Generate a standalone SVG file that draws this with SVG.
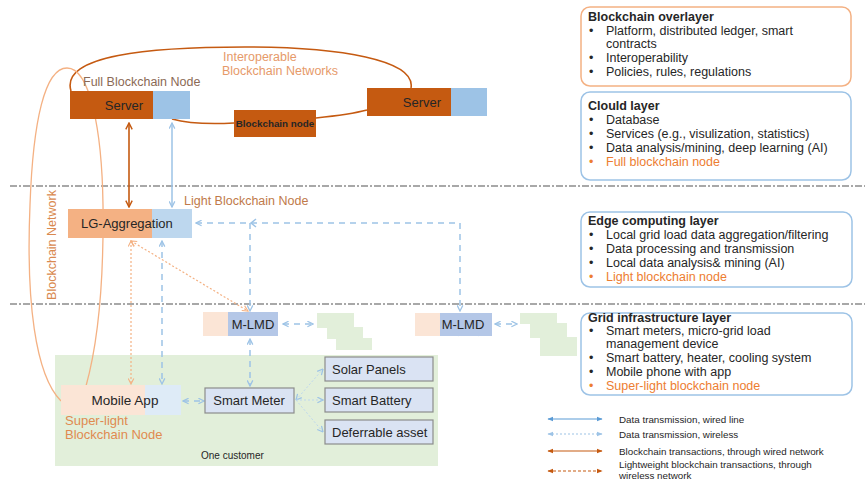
<svg xmlns="http://www.w3.org/2000/svg" width="865" height="489" viewBox="0 0 865 489">
  <defs>
    <style>
      text { font-family: "Liberation Sans", Arial, sans-serif; fill: #262626; }
      .lbl { font-size: 12.5px; }
      .dl { font-size: 13px; }
      .small { font-size: 9.8px; }
      .title { font-size: 12.5px; font-weight: bold; }
      .hl { fill: #ED7D31; }
      .sep { stroke: #8C8C8C; stroke-width: 1.3; stroke-dasharray: 7 2 2 2; fill: none; }
      .panel { fill: #FFFFFF; stroke-width: 1.5; }
      .wired-b { stroke: #9DC3E6; stroke-width: 1.5; fill: none; }
      .wired-o { stroke: #C55A11; stroke-width: 1.6; fill: none; }
      .wless-b { stroke: #9DC3E6; stroke-width: 1.5; stroke-dasharray: 6 5; fill: none; }
      .wless-o { stroke: #F4B183; stroke-width: 1.2; stroke-dasharray: 2 2; fill: none; }
      .fan { stroke: #BDD7EE; stroke-width: 1; stroke-dasharray: 2 2; fill: none; }
      .dev { fill: #DAE3F3; stroke: #8C8C8C; stroke-width: 1.2; }
      .green { fill: #E2EFDA; }
    </style>
    <marker id="hb" viewBox="0 0 10 10" refX="9" refY="5" markerWidth="7" markerHeight="7" markerUnits="userSpaceOnUse" orient="auto-start-reverse">
      <path d="M1,1 L9,5 L1,9" fill="none" stroke="#9DC3E6" stroke-width="1.8"/>
    </marker>
    <marker id="ho" viewBox="0 0 10 10" refX="9" refY="5" markerWidth="8" markerHeight="8" markerUnits="userSpaceOnUse" orient="auto-start-reverse">
      <path d="M1,1 L9,5 L1,9" fill="none" stroke="#C55A11" stroke-width="1.8"/>
    </marker>
    <marker id="hol" viewBox="0 0 10 10" refX="9" refY="5" markerWidth="7" markerHeight="7" markerUnits="userSpaceOnUse" orient="auto-start-reverse">
      <path d="M1,1 L9,5 L1,9" fill="none" stroke="#F4B183" stroke-width="1.6"/>
    </marker>
    <marker id="hf" viewBox="0 0 10 10" refX="9" refY="5" markerWidth="6" markerHeight="6" markerUnits="userSpaceOnUse" orient="auto-start-reverse">
      <path d="M0,1 L10,5 L0,9 Z" fill="#9DC3E6"/>
    </marker>
    <marker id="hfb" viewBox="0 0 10 10" refX="9" refY="5" markerWidth="6" markerHeight="6" markerUnits="userSpaceOnUse" orient="auto-start-reverse">
      <path d="M0,1 L10,5 L0,9 Z" fill="#5B9BD5"/>
    </marker>
    <marker id="hfo" viewBox="0 0 10 10" refX="9" refY="5" markerWidth="6" markerHeight="6" markerUnits="userSpaceOnUse" orient="auto-start-reverse">
      <path d="M0,1 L10,5 L0,9 Z" fill="#C55A11"/>
    </marker>
  </defs>

  <rect width="865" height="489" fill="#FFFFFF"/>

  <!-- layer separators -->
  <g id="separators">
    <line class="sep" x1="10" y1="186" x2="865" y2="186"/>
    <line class="sep" x1="10" y1="304" x2="865" y2="304"/>
  </g>

  <!-- customer premises area -->
  <g id="customer">
    <rect class="green" x="55" y="355" width="383" height="111"/>
    <text x="201" y="459" style="font-size:10px">One customer</text>
  </g>

  <!-- neighbourhood load clusters -->
  <g id="load-cluster-1">
    <rect class="green" x="317" y="313" width="37" height="15"/>
    <rect class="green" x="327" y="327" width="36" height="12"/>
    <rect class="green" x="336" y="338" width="36" height="12"/>
  </g>
  <g id="load-cluster-2">
    <rect class="green" x="520" y="313" width="37" height="11"/>
    <rect class="green" x="530" y="323" width="37" height="15"/>
    <rect class="green" x="540" y="337" width="37" height="19"/>
  </g>

  <!-- connectors -->
  <g id="connectors">
    <!-- interoperable blockchain networks loop -->
    <path class="wired-o" d="M71,91 C60,55 150,47 245,47 C340,47 416,60 411,88"/>
    <path class="wired-o" d="M172,119 C190,124 215,124 234,123"/>
    <path class="wired-o" d="M316,118 C335,116 352,114 367,110"/>
    <!-- blockchain network (overlay across layers) -->
    <path d="M61,401 C35,375 26,300 30,205 C33,120 45,68 67,68 C90,68 102,130 103,205 C104,290 96,350 86,386" fill="none" stroke="#F4B183" stroke-width="1.3"/>
    <!-- server to aggregator -->
    <line class="wired-o" x1="129" y1="123" x2="129" y2="207" marker-start="url(#ho)" marker-end="url(#ho)"/>
    <line class="wired-b" x1="172" y1="123" x2="172" y2="207" marker-start="url(#hb)" marker-end="url(#hb)"/>
    <!-- aggregator to M-LMDs (wireless) -->
    <polyline class="wless-b" points="196,223 460,223 460,311" marker-start="url(#hb)" marker-end="url(#hb)"/>
    <line class="wless-b" x1="250" y1="223" x2="250" y2="311" marker-end="url(#hb)"/>
    <path d="M256,219 L251,223 L256,227" fill="none" stroke="#9DC3E6" stroke-width="1.5"/>
    <!-- aggregator to mobile app / M-LMD -->
    <line class="wless-b" x1="162" y1="241" x2="162" y2="384" marker-start="url(#hb)" marker-end="url(#hb)"/>
    <line class="wless-o" x1="131" y1="241" x2="131" y2="384" marker-start="url(#hol)" marker-end="url(#hol)"/>
    <line class="wless-o" x1="131" y1="241" x2="248" y2="311" marker-start="url(#hol)" marker-end="url(#hol)"/>
    <!-- M-LMD to local loads -->
    <line class="wless-b" x1="283" y1="324" x2="313" y2="324" marker-start="url(#hb)" marker-end="url(#hb)"/>
    <line class="wless-b" x1="495" y1="324" x2="517" y2="324" marker-start="url(#hb)" marker-end="url(#hb)"/>
    <line x1="453" y1="333" x2="484" y2="333" stroke="#9DC3E6" stroke-width="1" marker-start="url(#hb)" marker-end="url(#hb)"/>
    <!-- M-LMD to smart meter -->
    <line class="wless-b" x1="250" y1="339" x2="250" y2="386" marker-start="url(#hb)" marker-end="url(#hb)"/>
    <!-- mobile app to smart meter -->
    <line class="wless-b" x1="183" y1="401" x2="204" y2="401" marker-start="url(#hb)" marker-end="url(#hb)"/>
    <!-- smart meter to assets -->
    <line class="fan" x1="296" y1="400" x2="323" y2="369" marker-start="url(#hb)" marker-end="url(#hb)"/>
    <line class="fan" x1="296" y1="400" x2="323" y2="400" marker-end="url(#hb)"/>
    <line class="fan" x1="296" y1="400" x2="323" y2="432" marker-end="url(#hb)"/>
  </g>

  <!-- cloud servers -->
  <g id="server-left">
    <text x="83" y="86" class="lbl" style="fill:#8B6A55">Full Blockchain Node</text>
    <rect x="70" y="91" width="83" height="28" fill="#C55A11"/>
    <rect x="153" y="91" width="37" height="28" fill="#9DC3E6"/>
    <text x="124" y="110" class="dl" text-anchor="middle">Server</text>
  </g>
  <g id="network-label">
    <text x="223" y="61" class="lbl" style="fill:#E69A6A">Interoperable</text>
    <text x="222" y="75" class="lbl" style="fill:#E69A6A">Blockchain Networks</text>
  </g>
  <g id="blockchain-node">
    <rect x="234" y="110" width="82" height="27" fill="#C55A11"/>
    <text x="275" y="127" text-anchor="middle" style="font-size:9.8px;font-weight:bold">Blockchain node</text>
  </g>
  <g id="server-right">
    <rect x="367" y="88" width="84" height="28" fill="#C55A11"/>
    <rect x="451" y="88" width="36" height="28" fill="#9DC3E6"/>
    <text x="422" y="107" class="dl" text-anchor="middle">Server</text>
  </g>

  <!-- edge aggregator -->
  <g id="lg-aggregation">
    <text x="184" y="205" class="lbl" style="fill:#C07A4A">Light Blockchain Node</text>
    <rect x="68" y="209" width="84" height="29" fill="#F4B183"/>
    <rect x="152" y="209" width="40" height="29" fill="#BDD7EE"/>
    <text x="81" y="228" class="dl">LG-Aggregation</text>
  </g>

  <g id="blockchain-network-label">
    <text transform="translate(56,245) rotate(-90)" text-anchor="middle" class="lbl" style="fill:#D9894F">Blockchain Network</text>
  </g>

  <!-- local load management devices -->
  <g id="m-lmd-1">
    <rect x="203" y="312" width="25" height="24" fill="#FBE5D6"/>
    <rect x="228" y="312" width="50" height="24" fill="#B4C7E7"/>
    <text x="253" y="329" class="dl" text-anchor="middle">M-LMD</text>
  </g>
  <g id="m-lmd-2">
    <rect x="415" y="313" width="25" height="23" fill="#FBE5D6"/>
    <rect x="440" y="313" width="52" height="23" fill="#B4C7E7"/>
    <text x="463" y="329" class="dl" text-anchor="middle">M-LMD</text>
  </g>

  <!-- customer devices -->
  <g id="mobile-app">
    <rect x="61" y="385" width="84" height="30" fill="#FBE5D6"/>
    <rect x="145" y="385" width="36" height="30" fill="#DEEBF7"/>
    <text x="125" y="405" text-anchor="middle" style="font-size:13.5px">Mobile App</text>
    <text x="65" y="425" class="dl" style="fill:#E08A50">Super-light</text>
    <text x="65" y="439" class="dl" style="fill:#E08A50">Blockchain Node</text>
  </g>
  <g id="smart-meter">
    <rect class="dev" x="205" y="388" width="89" height="25"/>
    <text x="249" y="405" class="dl" text-anchor="middle">Smart Meter</text>
  </g>
  <g id="solar-panels">
    <rect class="dev" x="325" y="357" width="108" height="24"/>
    <text x="332" y="374" class="dl">Solar Panels</text>
  </g>
  <g id="smart-battery">
    <rect class="dev" x="325" y="388" width="108" height="24"/>
    <text x="332" y="405" class="dl">Smart Battery</text>
  </g>
  <g id="deferrable-asset">
    <rect class="dev" x="325" y="420" width="108" height="24"/>
    <text x="332" y="437" class="dl">Deferrable asset</text>
  </g>

  <!-- layer descriptions -->
  <g id="panel-blockchain">
    <rect class="panel" x="581" y="7" width="270" height="79" rx="9" stroke="#F4B183"/>
    <text x="588" y="21" class="title">Blockchain overlayer</text>
    <text x="589" y="35" class="lbl">•</text><text x="606" y="35" class="lbl">Platform, distributed ledger, smart</text>
    <text x="606" y="48" class="lbl">contracts</text>
    <text x="589" y="62" class="lbl">•</text><text x="606" y="62" class="lbl">Interoperability</text>
    <text x="589" y="76" class="lbl">•</text><text x="606" y="76" class="lbl">Policies, rules, regulations</text>
  </g>
  <g id="panel-cloud">
    <rect class="panel" x="581" y="92" width="270" height="88" rx="9" stroke="#9DC3E6"/>
    <text x="588" y="110" class="title">Clould layer</text>
    <text x="589" y="124" class="lbl">•</text><text x="606" y="124" class="lbl">Database</text>
    <text x="589" y="138" class="lbl">•</text><text x="606" y="138" class="lbl">Services (e.g., visulization, statistics)</text>
    <text x="589" y="152" class="lbl">•</text><text x="606" y="152" class="lbl">Data analysis/mining, deep learning (AI)</text>
    <text x="589" y="166" class="lbl hl">•</text><text x="606" y="166" class="lbl hl">Full blockchain node</text>
  </g>
  <g id="panel-edge">
    <rect class="panel" x="581" y="212" width="271" height="75" rx="9" stroke="#9DC3E6"/>
    <text x="588" y="225" class="title">Edge computing layer</text>
    <text x="589" y="239" class="lbl">•</text><text x="606" y="239" class="lbl">Local grid load data aggregation/filtering</text>
    <text x="589" y="253" class="lbl">•</text><text x="606" y="253" class="lbl">Data processing and transmission</text>
    <text x="589" y="267" class="lbl">•</text><text x="606" y="267" class="lbl">Local data analysis&amp; mining (AI)</text>
    <text x="589" y="281" class="lbl hl">•</text><text x="606" y="281" class="lbl hl">Light blockchain node</text>
  </g>
  <g id="panel-grid">
    <rect class="panel" x="581" y="313" width="271" height="82" rx="9" stroke="#9DC3E6"/>
    <text x="588" y="322" class="title">Grid infrastructure layer</text>
    <text x="589" y="335" class="lbl">•</text><text x="606" y="335" class="lbl">Smart meters, micro-grid load</text>
    <text x="606" y="348" class="lbl">management device</text>
    <text x="589" y="362" class="lbl">•</text><text x="606" y="362" class="lbl">Smart battery, heater, cooling system</text>
    <text x="589" y="376" class="lbl">•</text><text x="606" y="376" class="lbl">Mobile phone with app</text>
    <text x="589" y="390" class="lbl hl">•</text><text x="606" y="390" class="lbl hl">Super-light blockchain node</text>
  </g>

  <!-- legend -->
  <g id="legend">
    <line x1="548" y1="419" x2="602" y2="419" stroke="#5B9BD5" stroke-width="1.2" marker-start="url(#hfb)" marker-end="url(#hfb)"/>
    <line x1="548" y1="434" x2="602" y2="434" stroke="#9DC3E6" stroke-width="1.2" stroke-dasharray="2 2" marker-start="url(#hf)" marker-end="url(#hf)"/>
    <line x1="548" y1="451" x2="602" y2="451" stroke="#C55A11" stroke-width="1.2" marker-start="url(#hfo)" marker-end="url(#hfo)"/>
    <line x1="548" y1="471" x2="602" y2="471" stroke="#C55A11" stroke-width="1.2" stroke-dasharray="3 2" marker-start="url(#hfo)" marker-end="url(#hfo)"/>
    <text x="619" y="423" class="small">Data transmission, wired line</text>
    <text x="619" y="438" class="small">Data transmission, wireless</text>
    <text x="619" y="455" class="small">Blockchain transactions, through wired network</text>
    <text x="619" y="468" class="small">Lightweight blockchain transactions, through</text>
    <text x="619" y="479" class="small">wireless network</text>
  </g>
</svg>
